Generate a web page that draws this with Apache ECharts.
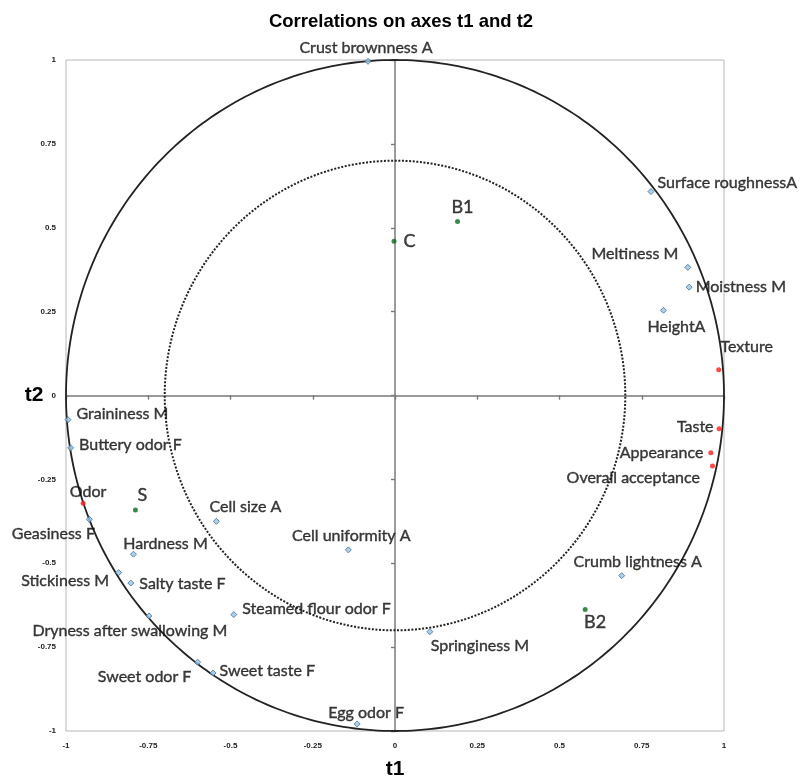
<!DOCTYPE html>
<html>
<head>
<meta charset="utf-8">
<script src="https://cdn.jsdelivr.net/npm/echarts@6/dist/echarts.min.js"></script>
<style>
  html, body { margin: 0; padding: 0; background: #ffffff; }
  #chart { width: 803px; height: 777px; }
</style>
</head>
<body>
<div id="chart"></div>
<script>
// Variables (blue markers): correlations with factors t1 and t2
const varNames = [
  'Crust brownness A', 'Surface roughnessA', 'Meltiness M', 'Moistness M', 'HeightA',
  'Graininess M', 'Buttery odor F', 'Geasiness F', 'Cell size A', 'Hardness M',
  'Stickiness M', 'Salty taste F', 'Dryness after swallowing M', 'Steamed flour odor F',
  'Cell uniformity A', 'Crumb lightness A', 'Springiness M', 'Sweet odor F',
  'Sweet taste F', 'Egg odor F'
];
const varT1 = [-0.082, 0.778, 0.890, 0.894, 0.816, -0.994, -0.986, -0.929, -0.543, -0.795,
  -0.840, -0.803, -0.748, -0.490, -0.142, 0.689, 0.106, -0.600, -0.553, -0.115];
const varT2 = [0.996, 0.608, 0.382, 0.323, 0.254, -0.072, -0.156, -0.369, -0.375, -0.473,
  -0.528, -0.559, -0.657, -0.653, -0.460, -0.537, -0.704, -0.795, -0.827, -0.979];

// Acceptance attributes (red markers)
const keyNames = ['Texture', 'Taste', 'Appearance', 'Overall acceptance', 'Odor'];
const keyT1 = [0.984, 0.985, 0.960, 0.965, -0.948];
const keyT2 = [0.077, -0.099, -0.171, -0.210, -0.321];

// Samples (green markers)
const sampleNames = ['B1', 'C', 'S', 'B2'];
const sampleT1 = [0.190, -0.003, -0.789, 0.578];
const sampleT2 = [0.519, 0.460, -0.341, -0.638];

// Reference circles (radius in correlation units)
const circleRadii = [1, 0.7];

// Label placement for each point: [position, dx, dy]
const labelPlace = {
  'Crust brownness A': ['top', -2, 1],
  'Surface roughnessA': ['right', 0, -9],
  'Meltiness M': ['left', -3, -13],
  'Moistness M': ['right', 0, 0],
  'HeightA': ['bottom', 13, 2],
  'Graininess M': ['right', 2, -6],
  'Buttery odor F': ['right', 2, -3],
  'Geasiness F': ['bottom', -36, 0],
  'Cell size A': ['top', 29, 0],
  'Hardness M': ['top', 32, 4],
  'Stickiness M': ['left', -3, 8],
  'Salty taste F': ['right', 2, 1],
  'Dryness after swallowing M': ['bottom', -19, 0],
  'Steamed flour odor F': ['right', 2, -6],
  'Cell uniformity A': ['top', 3, 1],
  'Crumb lightness A': ['top', 16, 1],
  'Springiness M': ['bottom', 50, 0],
  'Sweet odor F': ['bottom', -53, 0],
  'Sweet taste F': ['right', 0, -2],
  'Egg odor F': ['top', 9, 3],
  'Texture': ['top', 28, -9],
  'Taste': ['left', 0, -2],
  'Appearance': ['left', -2, 0],
  'Overall acceptance': ['left', -7, 12],
  'Odor': ['top', 5, 2],
  'B1': ['top', 5, 0],
  'C': ['right', 4, 0],
  'S': ['top', 7, 0],
  'B2': ['bottom', 10, -2]
};

function pointData(names, xs, ys) {
  return names.map(function (n, i) {
    const p = labelPlace[n] || ['right', 0, 0];
    return {
      name: n,
      value: [xs[i], ys[i]],
      label: { position: p[0], offset: [p[1], p[2]] }
    };
  });
}

const labelFont = {
  show: true,
  formatter: '{b}',
  fontFamily: 'Lato',
  fontSize: 16,
  color: '#0d0d0d',
  textBorderColor: '#0d0d0d',
  textBorderWidth: 0.4,
  distance: 3
};

function circleSeries(r, dashed) {
  return {
    type: 'custom',
    xAxisIndex: 0,
    yAxisIndex: 0,
    silent: true,
    clip: false,
    z: 1,
    data: [[0, 0]],
    renderItem: function (params, api) {
      const pts = [];
      for (let a = 0; a <= 360; a += 1) {
        const t = a * Math.PI / 180;
        pts.push(api.coord([r * Math.cos(t), r * Math.sin(t)]));
      }
      return {
        type: 'polyline',
        shape: { points: pts },
        style: dashed
          ? { stroke: '#222', lineWidth: 2, lineDash: [2, 1.6], fill: null }
          : { stroke: '#222', lineWidth: 1.8, fill: null }
      };
    }
  };
}

const tickFont = { fontFamily: 'Liberation Sans', fontSize: 8, fontWeight: 'bold', color: '#222' };
const nameFont = { fontFamily: 'Liberation Sans', fontWeight: 'bold', fontSize: 21, color: '#000' };

const chart = echarts.init(document.getElementById('chart'), null, { renderer: 'canvas' });
chart.setOption({
  animation: false,
  backgroundColor: '#ffffff',
  title: {
    text: 'Correlations on axes t1 and t2',
    left: 396,
    textAlign: 'center',
    top: 7,
    textStyle: { fontFamily: 'Liberation Sans', fontWeight: 'bold', fontSize: 18.5, color: '#000' }
  },
  grid: {
    left: 66, right: 79, top: 60, bottom: 46,
    containLabel: false,
    outerBoundsMode: 'none',
    show: true, borderColor: '#b8b8b8', borderWidth: 1, backgroundColor: 'transparent'
  },
  xAxis: [
    {
      type: 'value', min: -1, max: 1, interval: 0.25,
      axisLine: { show: true, onZero: true, lineStyle: { color: '#7a7a7a', width: 1.5 } },
      axisTick: { show: true, length: 4, lineStyle: { color: '#7a7a7a', width: 1.2 } },
      axisLabel: { show: false },
      splitLine: { show: false }
    },
    {
      type: 'value', min: -1, max: 1, interval: 0.25, position: 'bottom',
      axisLine: { show: false, onZero: false },
      axisTick: { show: false },
      axisLabel: Object.assign({ margin: 11 }, tickFont),
      splitLine: { show: false },
      name: 't1', nameLocation: 'middle', nameGap: 28,
      nameTextStyle: nameFont
    },
    {
      type: 'value', min: -1, max: 1, interval: 0.25,
      axisLine: { show: false, onZero: true },
      axisTick: { show: true, inside: true, length: 4, lineStyle: { color: '#7a7a7a', width: 1.2 } },
      axisLabel: { show: false },
      splitLine: { show: false }
    }
  ],
  yAxis: [
    {
      type: 'value', min: -1, max: 1, interval: 0.25,
      axisLine: { show: true, onZero: true, lineStyle: { color: '#7a7a7a', width: 1.5 } },
      axisTick: { show: true, length: 4, lineStyle: { color: '#7a7a7a', width: 1.2 } },
      axisLabel: { show: false },
      splitLine: { show: false }
    },
    {
      type: 'value', min: -1, max: 1, interval: 0.25, position: 'left',
      axisLine: { show: false, onZero: false },
      axisTick: { show: false },
      axisLabel: Object.assign({ margin: 10 }, tickFont),
      splitLine: { show: false },
      name: 't2', nameLocation: 'middle', nameGap: 32, nameRotate: 0,
      nameMoveOverlap: false,
      nameTextStyle: Object.assign({ align: 'center' }, nameFont)
    },
    {
      type: 'value', min: -1, max: 1, interval: 0.25,
      axisLine: { show: false, onZero: true },
      axisTick: { show: true, inside: true, length: 4, lineStyle: { color: '#7a7a7a', width: 1.2 } },
      axisLabel: { show: false },
      splitLine: { show: false }
    }
  ],
  series: [
    circleSeries(circleRadii[0], false),
    circleSeries(circleRadii[1], true),
    {
      name: 'Variables',
      type: 'scatter',
      xAxisIndex: 0, yAxisIndex: 0,
      symbol: 'diamond',
      symbolSize: 6,
      z: 3,
      itemStyle: { color: '#9cc3e4', borderColor: '#3d6f9c', borderWidth: 1 },
      label: labelFont,
      data: pointData(varNames, varT1, varT2)
    },
    {
      name: 'Acceptance',
      type: 'scatter',
      xAxisIndex: 0, yAxisIndex: 0,
      symbol: 'circle',
      symbolSize: 5,
      z: 3,
      itemStyle: { color: '#ff1a1a' },
      label: labelFont,
      data: pointData(keyNames, keyT1, keyT2)
    },
    {
      name: 'Samples',
      type: 'scatter',
      xAxisIndex: 0, yAxisIndex: 0,
      symbol: 'circle',
      symbolSize: 5,
      z: 3,
      itemStyle: { color: '#0b6b22' },
      label: Object.assign({}, labelFont, { fontSize: 18 }),
      data: pointData(sampleNames, sampleT1, sampleT2)
    }
  ]
});
</script>
</body>
</html>
